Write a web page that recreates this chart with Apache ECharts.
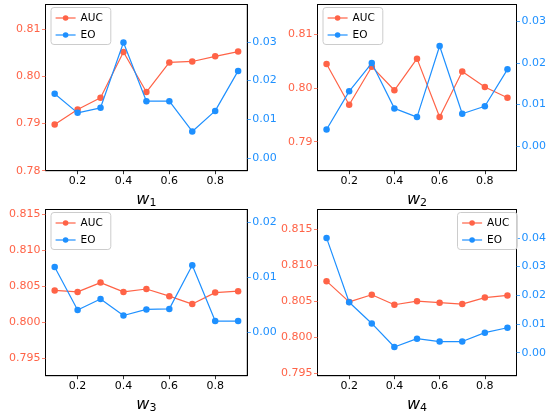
<!DOCTYPE html>
<html>
<head>
<meta charset="utf-8">
<script src="https://cdn.jsdelivr.net/npm/echarts@6/dist/echarts.min.js"></script>
<style>html,body{margin:0;padding:0;background:#fff}#c{width:549px;height:415px}</style>
</head>
<body>
<div id="c"></div>
<script>
// ---- data ----
const xVals = [0.1, 0.2, 0.3, 0.4, 0.5, 0.6, 0.7, 0.8, 0.9];
const auc1 = [0.7898, 0.7930, 0.7955, 0.8052, 0.7967, 0.8030, 0.8032, 0.8043, 0.8053];
const eo1  = [0.0166, 0.0117, 0.0130, 0.0298, 0.0147, 0.0147, 0.0069, 0.0122, 0.0225];
const auc2 = [0.8045, 0.7969, 0.8040, 0.7996, 0.8055, 0.7946, 0.8031, 0.8002, 0.7982];
const eo2  = [0.0040, 0.0132, 0.0200, 0.0091, 0.0070, 0.0241, 0.0078, 0.0096, 0.0185];
const auc3 = [0.8044, 0.8042, 0.8055, 0.8042, 0.8046, 0.8036, 0.8025, 0.8041, 0.8043];
const eo3  = [0.0119, 0.0041, 0.0061, 0.0031, 0.0042, 0.0043, 0.0122, 0.0021, 0.0021];
const auc4 = [0.8078, 0.8049, 0.8059, 0.8045, 0.8050, 0.8048, 0.8046, 0.8055, 0.8058];
const eo4  = [0.0400, 0.0176, 0.0102, 0.0020, 0.0049, 0.0039, 0.0039, 0.0070, 0.0087];

const xTicks = [0.2, 0.4, 0.6, 0.8];
const leftTicks1 = [0.78, 0.79, 0.80, 0.81];
const leftTicks2 = [0.79, 0.80, 0.81];
const leftTicks3 = [0.795, 0.800, 0.805, 0.810, 0.815];
const leftTicks4 = [0.795, 0.800, 0.805, 0.810, 0.815];
const rightTicks1 = [0.00, 0.01, 0.02, 0.03];
const rightTicks2 = [0.00, 0.01, 0.02, 0.03];
const rightTicks3 = [0.00, 0.01, 0.02];
const rightTicks4 = [0.00, 0.01, 0.02, 0.03, 0.04];
const xNames = ['1', '2', '3', '4'];

// ---- styling / layout ----
const RED = '#FF6347', BLUE = '#1E90FF';
const FONT = 'DejaVu Sans';
const panels = [
  {left: 45.5, top: 4.5, auc: auc1, eo: eo1, lt: leftTicks1, rt: rightTicks1, lmin: 0.78, lmax: 0.8153, rmin: -0.0032, rmax: 0.0396, ld: 2, legend: 'left'},
  {left: 317.5, top: 4.5, auc: auc2, eo: eo2, lt: leftTicks2, rt: rightTicks2, lmin: 0.7846, lmax: 0.8156, rmin: -0.0059, rmax: 0.0341, ld: 2, legend: 'left'},
  {left: 45.5, top: 209.5, auc: auc3, eo: eo3, lt: leftTicks3, rt: rightTicks3, lmin: 0.7925, lmax: 0.8157, rmin: -0.0078, rmax: 0.0223, ld: 3, legend: 'left'},
  {left: 317.5, top: 209.5, auc: auc4, eo: eo4, lt: leftTicks4, rt: rightTicks4, lmin: 0.7946, lmax: 0.8178, rmin: -0.0080, rmax: 0.0499, ld: 3, legend: 'right'}
];
const W = 201.8, H = 166.2;
const spine = {show: true, onZero: false, lineStyle: {color: '#000', width: 1}};

const grid = [], xAxis = [], yAxis = [], series = [], legend = [];
panels.forEach((p, i) => {
  grid.push({left: p.left, top: p.top, width: W, height: H, show: true, borderColor: '#000', borderWidth: 1, backgroundColor: 'transparent'});
  xAxis.push({
    type: 'value', gridIndex: i, min: 0.06, max: 0.94, position: 'bottom',
    splitLine: {show: false}, axisLine: spine,
    axisTick: {show: true, length: 3.5, lineStyle: {color: '#000', width: 0.8}, customValues: xTicks},
    axisLabel: {color: '#000', fontSize: 11, fontFamily: FONT, margin: 5, customValues: xTicks, formatter: v => v.toFixed(1)},
    name: '{a|w}{b|' + xNames[i] + '}', nameLocation: 'middle', nameGap: 21,
    nameTextStyle: {rich: {
      a: {fontStyle: 'italic', fontSize: 16, fontFamily: FONT, color: '#000'},
      b: {fontSize: 11, fontFamily: FONT, color: '#000', padding: [6, 0, 0, 0]}
    }}
  });
  yAxis.push({
    type: 'value', gridIndex: i, position: 'left', min: p.lmin, max: p.lmax,
    splitLine: {show: false}, axisLine: spine,
    axisTick: {show: true, length: 3.5, lineStyle: {color: RED, width: 0.8}, customValues: p.lt},
    axisLabel: {color: RED, fontSize: 11, fontFamily: FONT, margin: 5, customValues: p.lt, formatter: v => v.toFixed(p.ld)}
  });
  yAxis.push({
    type: 'value', gridIndex: i, position: 'right', min: p.rmin, max: p.rmax,
    splitLine: {show: false}, axisLine: spine,
    axisTick: {show: true, length: 3.5, lineStyle: {color: BLUE, width: 0.8}, customValues: p.rt},
    axisLabel: {color: BLUE, fontSize: 11, fontFamily: FONT, margin: 5, customValues: p.rt, formatter: v => v.toFixed(2)}
  });
  const mk = (name, vals, color, yi) => ({
    name, type: 'line', xAxisIndex: i, yAxisIndex: yi,
    data: xVals.map((x, k) => [x, vals[k]]),
    symbol: 'circle', symbolSize: 6.5, showSymbol: true,
    lineStyle: {color, width: 1.2}, itemStyle: {color},
    animation: false, z: name === 'EO' ? 3 : 2
  });
  series.push(mk('AUC', p.auc, RED, 2 * i));
  series.push(mk('EO', p.eo, BLUE, 2 * i + 1));
  const lg = {
    data: ['AUC', 'EO'], orient: 'vertical', top: p.top + 3,
    itemWidth: 20, itemHeight: 7, itemGap: 4,
    padding: [4, 8, 3, 4], borderColor: '#ccc', borderWidth: 1, borderRadius: 3,
    backgroundColor: 'rgba(255,255,255,0.8)',
    lineStyle: {width: 1.2},
    textStyle: {fontSize: 10.5, fontFamily: FONT, color: '#000', lineHeight: 13}, selectedMode: false
  };
  if (p.legend === 'left') lg.left = p.left + 5.5; else lg.right = 549 - (p.left + W) + 2;
  legend.push(lg);
});

const chart = echarts.init(document.getElementById('c'), null, {renderer: 'canvas'});
chart.setOption({animation: false, textStyle: {fontFamily: FONT}, grid, xAxis, yAxis, series, legend});
</script>
</body>
</html>
